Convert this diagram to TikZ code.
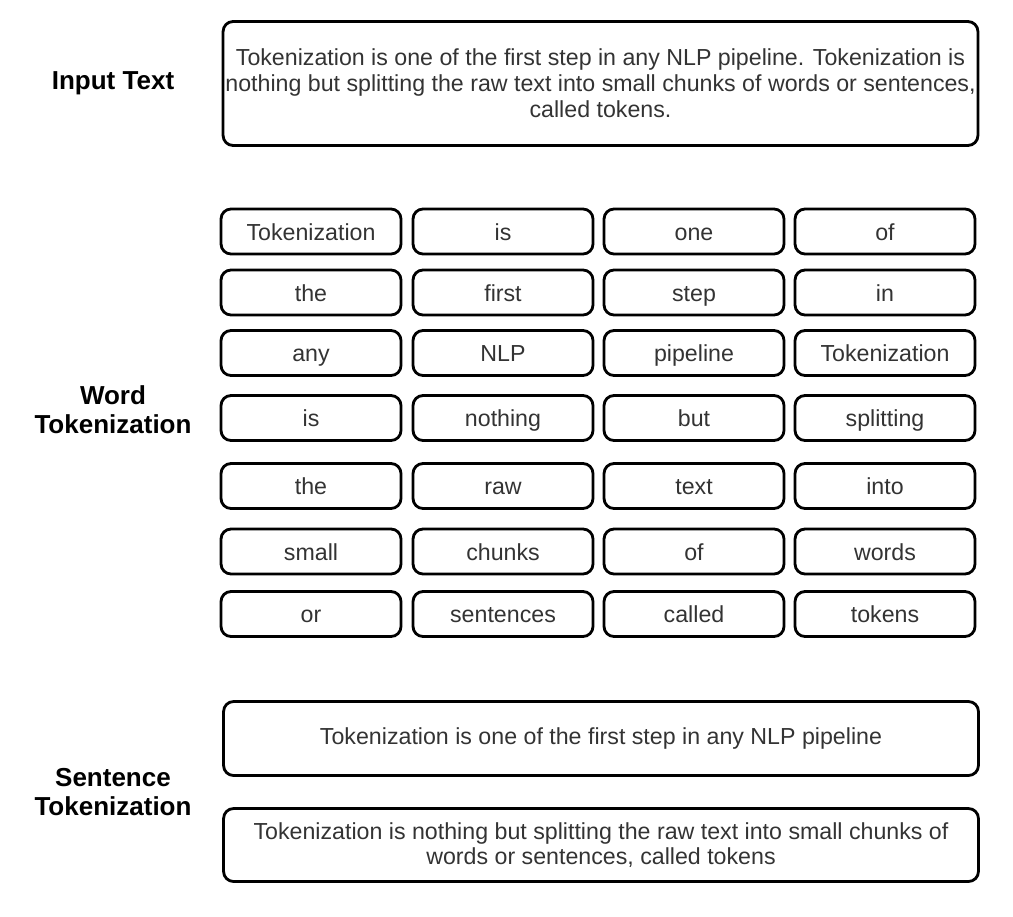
\documentclass[tikz,border=0pt]{standalone}
\usepackage{fontspec}
\setmainfont{Liberation Sans}

\begin{document}
\begin{tikzpicture}[%
      x=0.02cm, y=-0.02cm,
      box/.style={draw, line width=1.6pt, rounded corners=0.2cm, inner sep=0pt,
        text=black!80, align=center, font=\fontsize{13.2}{14.7}\selectfont},
      tok/.style={box, minimum width=3.6cm, minimum height=0.9cm,
        text height=2.3ex, text depth=0.4ex},
      lbl/.style={align=center, font=\fontsize{14.8}{16.5}\selectfont\bfseries},
      ]
      \useasboundingbox (0,0) rectangle (1013,916);

      \node [lbl] (inlbl) at (113,83) {Input Text};
      \node [lbl] (wordlbl) at (113,410) {Word\\Tokenization};
      \node [lbl] (sentlbl) at (113,792) {Sentence\\Tokenization};

      \node [box, minimum width=15.1cm, minimum height=2.48cm] (input) at (600.5,83.5)
        {Tokenization is one of the first step in any NLP pipeline. Tokenization is\\
         nothing but splitting the raw text into small chunks of words or sentences,\\
         called tokens.};

      \node [tok] (t11) at (311,231.5) {Tokenization};
      \node [tok] (t12) at (503,231.5) {is};
      \node [tok] (t13) at (694,231.5) {one};
      \node [tok] (t14) at (885,231.5) {of};

      \node [tok] (t21) at (311,292.5) {the};
      \node [tok] (t22) at (503,292.5) {first};
      \node [tok] (t23) at (694,292.5) {step};
      \node [tok] (t24) at (885,292.5) {in};

      \node [tok] (t31) at (311,353) {any};
      \node [tok] (t32) at (503,353) {NLP};
      \node [tok] (t33) at (694,353) {pipeline};
      \node [tok] (t34) at (885,353) {Tokenization};

      \node [tok] (t41) at (311,418) {is};
      \node [tok] (t42) at (503,418) {nothing};
      \node [tok] (t43) at (694,418) {but};
      \node [tok] (t44) at (885,418) {splitting};

      \node [tok] (t51) at (311,486) {the};
      \node [tok] (t52) at (503,486) {raw};
      \node [tok] (t53) at (694,486) {text};
      \node [tok] (t54) at (885,486) {into};

      \node [tok] (t61) at (311,551.5) {small};
      \node [tok] (t62) at (503,551.5) {chunks};
      \node [tok] (t63) at (694,551.5) {of};
      \node [tok] (t64) at (885,551.5) {words};

      \node [tok] (t71) at (311,614) {or};
      \node [tok] (t72) at (503,614) {sentences};
      \node [tok] (t73) at (694,614) {called};
      \node [tok] (t74) at (885,614) {tokens};

      \node [box, minimum width=15.1cm, minimum height=1.48cm] (sent1) at (601,738.5)
        {Tokenization is one of the first step in any NLP pipeline};
      \node [box, minimum width=15.1cm, minimum height=1.46cm] (sent2) at (601,845)
        {Tokenization is nothing but splitting the raw text into small chunks of\\
         words or sentences, called tokens};
      \end{tikzpicture}
\end{document}
